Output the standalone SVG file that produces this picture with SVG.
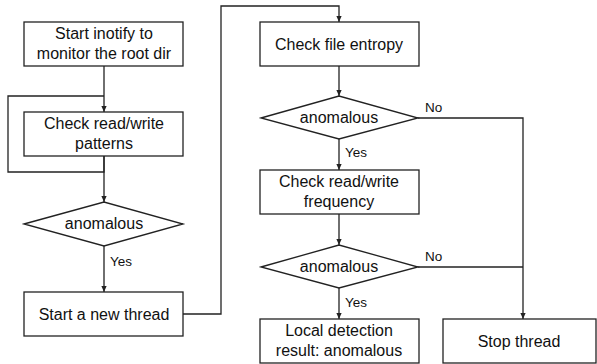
<svg xmlns="http://www.w3.org/2000/svg" width="597" height="364" viewBox="0 0 597 364">
<style>
.box{fill:#fff;stroke:#222;stroke-width:1.3}
.t{font-family:"Liberation Sans",Arial,sans-serif;font-size:16px;fill:#111;text-anchor:middle}
.l{font-family:"Liberation Sans",Arial,sans-serif;font-size:13.5px;fill:#111}
.c{fill:none;stroke:#222;stroke-width:1.3}
</style>
<defs>
<marker id="a" viewBox="0 0 8 8" refX="8" refY="4" markerWidth="6" markerHeight="6" markerUnits="userSpaceOnUse" orient="auto">
<path d="M0,0.5 L8,4 L0,7.5 Z" fill="#222"/>
</marker>
</defs>
<rect width="597" height="364" fill="#fff"/>
<g id="connectors">
<path class="c" d="M104,66 V112" marker-end="url(#a)"/>
<path class="c" d="M104,156 V172 H8 V96 H104"/>
<path class="c" d="M104,156 V202" marker-end="url(#a)"/>
<path class="c" d="M104,246 V292" marker-end="url(#a)"/>
<path class="c" d="M183,314 H221 V6 H339 V22" marker-end="url(#a)"/>
<path class="c" d="M339,66 V96" marker-end="url(#a)"/>
<path class="c" d="M339,139 V170" marker-end="url(#a)"/>
<path class="c" d="M339,214 V245" marker-end="url(#a)"/>
<path class="c" d="M339,288 V319" marker-end="url(#a)"/>
<path class="c" d="M418,118 H523 V319" marker-end="url(#a)"/>
<path class="c" d="M418,267 H523"/>
<text class="l" x="110" y="266">Yes</text>
<text class="l" x="345" y="157">Yes</text>
<text class="l" x="345" y="307">Yes</text>
<text class="l" x="425" y="112">No</text>
<text class="l" x="425" y="261">No</text>
</g>
<g id="n1"><rect class="box" x="24" y="22" width="159" height="44"/><text class="t" x="104" y="39">Start inotify to</text><text class="t" x="104" y="59">monitor the root dir</text></g>
<g id="n2"><rect class="box" x="24" y="112" width="159" height="44"/><text class="t" x="104" y="129">Check read/write</text><text class="t" x="104" y="149">patterns</text></g>
<g id="d1"><polygon class="box" points="24,224 104,202 183,224 104,246"/><text class="t" x="104" y="229">anomalous</text></g>
<g id="n3"><rect class="box" x="24" y="292" width="159" height="44"/><text class="t" x="104" y="320">Start a new thread</text></g>
<g id="n4"><rect class="box" x="260" y="22" width="159" height="44"/><text class="t" x="339" y="50">Check file entropy</text></g>
<g id="d2"><polygon class="box" points="261,118 339,96 418,118 339,139"/><text class="t" x="339" y="123">anomalous</text></g>
<g id="n5"><rect class="box" x="260" y="170" width="159" height="44"/><text class="t" x="339" y="187">Check read/write</text><text class="t" x="339" y="207">frequency</text></g>
<g id="d3"><polygon class="box" points="261,267 339,245 418,267 339,288"/><text class="t" x="339" y="272">anomalous</text></g>
<g id="n6"><rect class="box" x="260" y="319" width="159" height="44"/><text class="t" x="339" y="336">Local detection</text><text class="t" x="339" y="356">result: anomalous</text></g>
<g id="n7"><rect class="box" x="443" y="319" width="153" height="44"/><text class="t" x="519" y="347">Stop thread</text></g>
</svg>
